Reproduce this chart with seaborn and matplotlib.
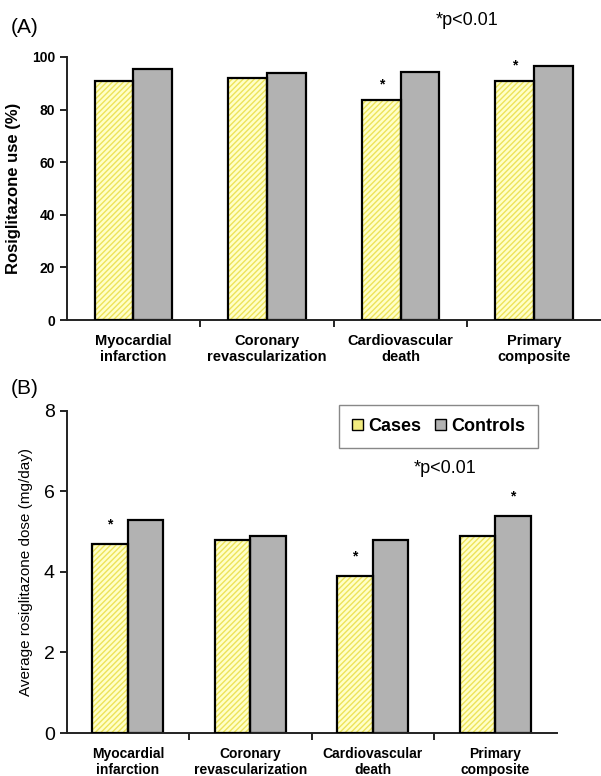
import numpy as np
import pandas as pd
import seaborn as sns
import matplotlib.pyplot as plt
from matplotlib.patches import Patch

### Data ###
outcomes = ["Myocardial\ninfarction", "Coronary\nrevascularization",
            "Cardiovascular\ndeath", "Primary\ncomposite"]
groups = ["Cases", "Controls"]
use_cases = [91.0, 92.0, 83.8, 91.0]
use_controls = [95.3, 94.0, 94.3, 96.4]
dose_cases = [4.70, 4.79, 3.90, 4.90]
dose_controls = [5.30, 4.90, 4.79, 5.40]
# which bars carry a star (group, outcome index)
stars_use = [("Cases", 2), ("Cases", 3)]
stars_dose = [("Cases", 0), ("Cases", 2), ("Controls", 3)]

sns.set_theme(style="white")
plt.rcParams['font.family'] = ['Liberation Sans', 'DejaVu Sans']
plt.rcParams['hatch.linewidth'] = 1.0
plt.rcParams['text.color'] = 'black'
plt.rcParams['axes.labelcolor'] = 'black'
plt.rcParams['xtick.color'] = 'black'
plt.rcParams['ytick.color'] = 'black'

yellow_face = "#FFFFC8"
yellow_hatch = "#EDE35A"
grey = "#B2B2B2"


def long_df(cases, controls):
    return pd.DataFrame({
        "outcome": outcomes * 2,
        "group": [groups[0]] * len(outcomes) + [groups[1]] * len(outcomes),
        "value": cases + controls,
    })


def draw(ax, df, stars, ymax, yticks, star_off, xsize):
    sns.barplot(data=df, x="outcome", y="value", hue="group", ax=ax,
                palette=[yellow_face, grey], width=0.58, gap=0,
                edgecolor="black", linewidth=1.6, legend=False, saturation=1)
    for bar in ax.containers[0]:
        bar.set_hatch("//////")
        bar.set_edgecolor(yellow_hatch)
        bar.set_linewidth(0)
        # black outline drawn as a second patch
        ax.add_patch(plt.Rectangle(bar.get_xy(), bar.get_width(), bar.get_height(),
                                   fill=False, edgecolor="black", linewidth=1.6, zorder=3))
    for g, i in stars:
        bar = ax.containers[groups.index(g)][i]
        ax.text(bar.get_x() + bar.get_width() / 2, bar.get_height() + star_off, "*",
                ha="center", va="bottom", fontsize=10, fontweight="bold")
    ax.set_ylim(0, ymax)
    ax.set_yticks(yticks)
    ax.set_xlim(-0.5, len(outcomes) - 0.5)
    ax.set_xlabel("")
    ax.set_xticks(range(len(outcomes)))
    ax.set_xticklabels(outcomes, fontweight="bold", fontsize=xsize, linespacing=1.15)
    ax.tick_params(axis="x", length=0, pad=10)
    ax.set_xticks(np.arange(0.5, len(outcomes) - 0.5), minor=True)
    ax.tick_params(axis="x", which="minor", length=5, width=1.2, direction="out", bottom=True)
    ax.tick_params(axis="y", length=5, width=1.2, direction="out", left=True)
    for s in ["top", "right"]:
        ax.spines[s].set_visible(False)
    for s in ["left", "bottom"]:
        ax.spines[s].set_color("#222222")
        ax.spines[s].set_linewidth(1.4)


fig = plt.figure(figsize=(6.01, 7.76), dpi=100)

### Panel A ###
axA = fig.add_axes([0.111, 0.5876, 0.889, 0.339])
draw(axA, long_df(use_cases, use_controls), stars_use, 100, range(0, 101, 20), 3.0, 10.5)
axA.set_ylabel("Rosiglitazone use (%)", fontsize=12, fontweight="bold", labelpad=8)
for t in axA.get_yticklabels():
    t.set_fontweight("bold")
    t.set_fontsize(10)
fig.text(0.018, 0.964, "(A)", fontsize=15, va="center")
fig.text(0.777, 0.974, "*p<0.01", fontsize=13, ha="center", va="center")

### Panel B ###
axB = fig.add_axes([0.111, 0.0554, 0.815, 0.415])
draw(axB, long_df(dose_cases, dose_controls), stars_dose, 8, range(0, 9, 2), 0.3, 10)
axB.set_ylabel("Average rosiglitazone dose (mg/day)", fontsize=11, labelpad=8)
for t in axB.get_yticklabels():
    t.set_fontsize(14)
fig.text(0.018, 0.499, "(B)", fontsize=15, va="center")
fig.text(0.74, 0.396, "*p<0.01", fontsize=13, ha="center", va="center")

handles = [Patch(facecolor="#F2EC80", edgecolor="black", linewidth=1.0, label="Cases"),
           Patch(facecolor=grey, edgecolor="black", linewidth=1.0, label="Controls")]
leg = fig.legend(handles=handles, loc="center", bbox_to_anchor=(0.73, 0.4504), ncol=2,
                 prop={"weight": "bold", "size": 13}, fancybox=False, framealpha=1,
                 edgecolor="#888888", handlelength=0.6, handleheight=0.6,
                 handletextpad=0.3, columnspacing=0.8, borderpad=0.7)
leg.get_frame().set_linewidth(1.0)

fig.savefig("out.png", dpi=100)
